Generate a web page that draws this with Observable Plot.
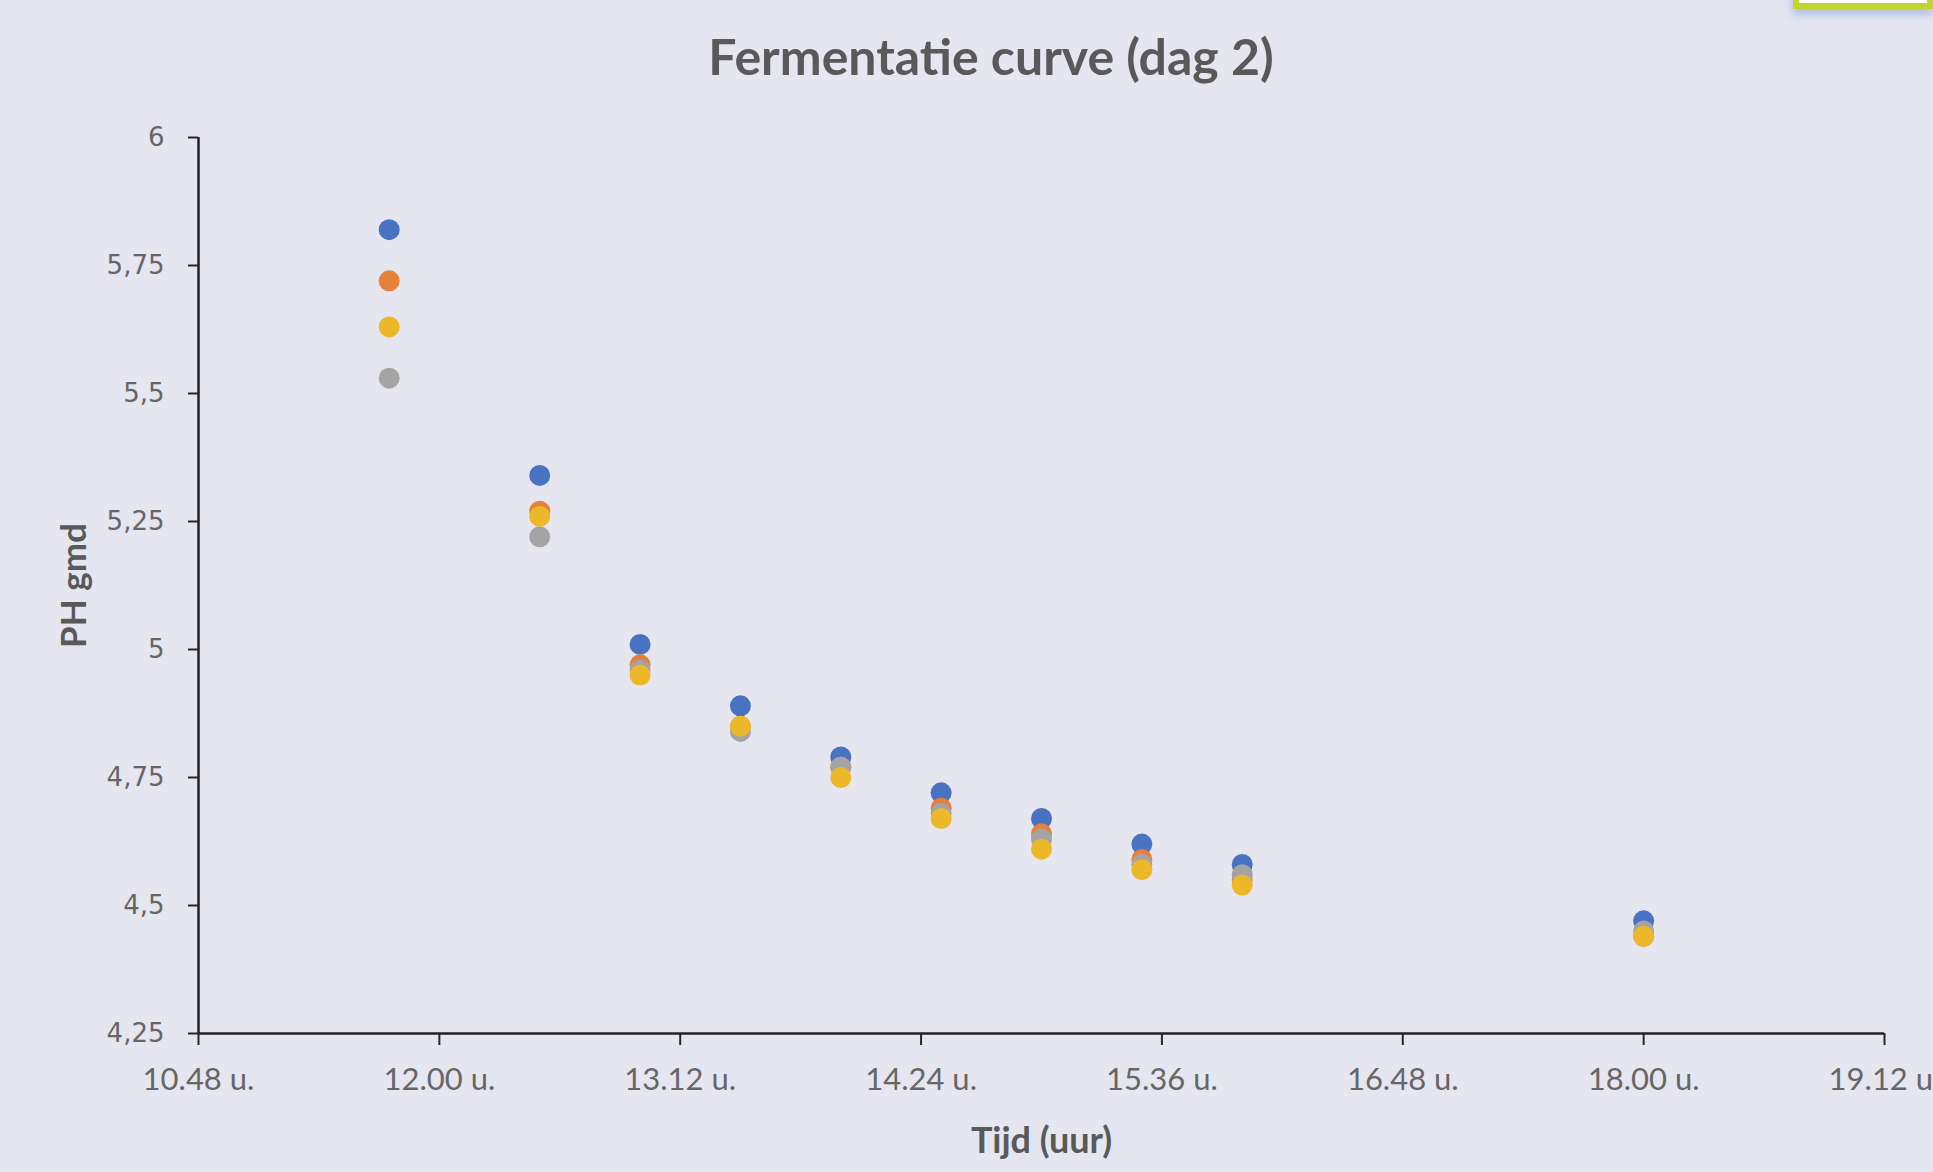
<!DOCTYPE html>
<html>
<head>
<meta charset="utf-8">
<script src="https://cdn.jsdelivr.net/npm/d3@7"></script>
<script src="https://cdn.jsdelivr.net/npm/@observablehq/plot@0.6"></script>
<style>
  html, body { margin: 0; padding: 0; }
  body { width: 1933px; height: 1172px; overflow: hidden; background: #E5E6F0; position: relative; font-family: Lato, sans-serif; }
  #title { position: absolute; left: 0; width: 1982px; top: 31px; text-align: center; font: bold 50px/50px Lato, sans-serif; color: #595959; }
  #chart { position: absolute; left: 0; top: 100px; }
  #corner { position: absolute; left: 1793px; top: -20px; width: 140px; height: 29px; box-sizing: border-box; border: 6px solid #C2D52A; background: #fff; box-shadow: 0 5px 9px rgba(120,150,215,0.55); }
  .yax text { font-family: "DejaVu Sans", sans-serif; }
</style>
</head>
<body>
<div id="corner"></div>
<div id="title">Fermentatie curve (dag 2)</div>
<div id="chart"></div>
<script>
// ---- data ----
const times   = ["11:45","12:30","13:00","13:30","14:00","14:30","15:00","15:30","16:00","18:00"];
const series  = ["Reeks1","Reeks2","Reeks3","Reeks4"];
const colors  = ["#4A72C3","#E7803A","#A4A4A4","#ECB82A"];
const reeks1  = [5.82, 5.34, 5.01, 4.89, 4.79, 4.72, 4.67, 4.62, 4.58, 4.47];
const reeks2  = [5.72, 5.27, 4.97, 4.85, 4.77, 4.69, 4.64, 4.59, 4.55, 4.44];
const reeks3  = [5.53, 5.22, 4.96, 4.84, 4.77, 4.68, 4.63, 4.58, 4.56, 4.45];
const reeks4  = [5.63, 5.26, 4.95, 4.85, 4.75, 4.67, 4.61, 4.57, 4.54, 4.44];
const xTicks  = ["10:48","12:00","13:12","14:24","15:36","16:48","18:00","19:12"];
const yTicks  = [4.25, 4.5, 4.75, 5, 5.25, 5.5, 5.75, 6];
const xTitle  = "Tijd (uur)";
const yTitle  = "PH gmd";

const parse = d3.utcParse("%H:%M");
const fmtX = d3.utcFormat("%H.%M u.");
const fmtY = d => String(d).replace(".", ",");

const values = [reeks1, reeks2, reeks3, reeks4];
const data = [];
series.forEach((s, i) => times.forEach((t, j) => data.push({series: s, time: parse(t), ph: values[i][j]})));

const xDomain = [parse(xTicks[0]), parse(xTicks[xTicks.length - 1])];

const plot = Plot.plot({
  width: 1933,
  height: 1072,
  marginTop: 37,
  marginBottom: 139,
  marginLeft: 198,
  marginRight: 49,
  style: {background: "transparent", overflow: "visible", fontFamily: "Lato"},
  x: {type: "utc", domain: xDomain},
  y: {domain: [4.25, 6]},
  color: {domain: series, range: colors},
  marks: [
    Plot.axisX({ticks: xTicks.map(parse), tickFormat: fmtX, tickSize: 12, tickPadding: 22,
      stroke: "#262626", strokeWidth: 2, fill: "#666666", fontSize: 31, fontFamily: "Lato", label: null}),
    Plot.axisY({ticks: yTicks, tickFormat: fmtY, tickSize: 10, tickPadding: 24, className: "yax",
      stroke: "#262626", strokeWidth: 2, fill: "#666666", fontSize: 26, fontFamily: "DejaVu Sans", label: null}),
    Plot.ruleY([4.25], {stroke: "#222", strokeWidth: 2.5}),
    Plot.ruleX([xDomain[0]], {stroke: "#222", strokeWidth: 2.5}),
    Plot.dot(data, {x: "time", y: "ph", fill: "series", r: 10.5}),
    Plot.text([xTitle], {frameAnchor: "bottom", dy: 119, fontSize: 36, fontWeight: "bold", fontFamily: "Lato", fill: "#595959"}),
    Plot.text([yTitle], {frameAnchor: "left", dx: -124, rotate: -90, textAnchor: "middle", fontSize: 35, fontWeight: "bold", fontFamily: "Lato", fill: "#595959"})
  ]
});
document.getElementById("chart").appendChild(plot);
</script>
</body>
</html>
